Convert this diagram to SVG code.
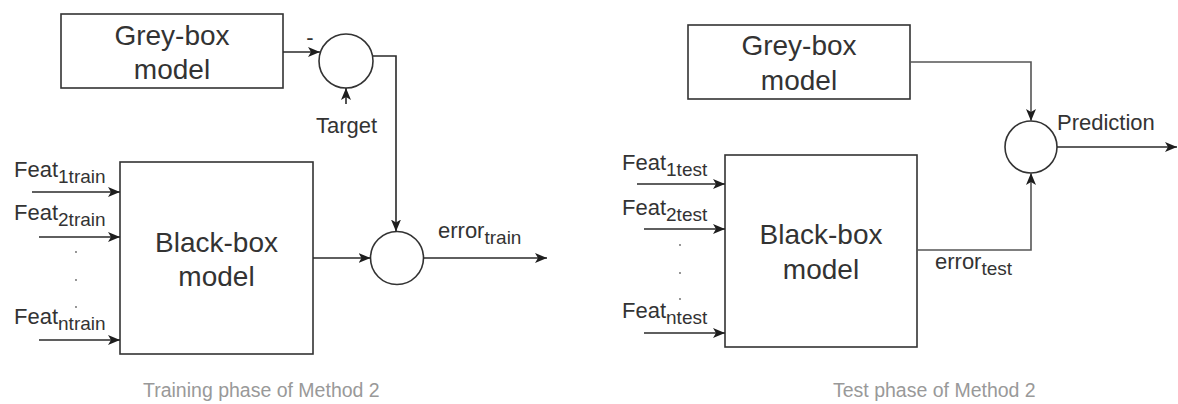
<svg xmlns="http://www.w3.org/2000/svg" width="1178" height="404" viewBox="0 0 1178 404">
  <style>
    .box { fill: #ffffff; stroke: #333333; stroke-width: 1.6; }
    .sum { fill: #ffffff; stroke: #333333; stroke-width: 1.6; }
    .wire { fill: none; stroke: #2a2a2a; stroke-width: 1.6; }
    .wire.soft { stroke: #555555; }
    .big { font-family: "Liberation Sans", Arial, sans-serif; font-size: 28px; fill: #333333; text-anchor: middle; }
    .lbl { font-family: "Liberation Sans", Arial, sans-serif; font-size: 22px; fill: #333333; }
    .sub { font-size: 19px; }
    .cap { font-family: "Liberation Sans", Arial, sans-serif; font-size: 19.5px; fill: #999999; }
    .dot { fill: #666666; }
  </style>
  <defs>
    <marker id="arrow" markerUnits="userSpaceOnUse" markerWidth="14" markerHeight="12" refX="12" refY="5" orient="auto">
      <path d="M0,0 L12,5 L0,10 L3,5 Z" fill="#1e1e1e"/>
    </marker>
  </defs>

  <rect width="1178" height="404" fill="#ffffff"/>

  <!-- ===== Training phase ===== -->
  <g id="train-greybox">
    <rect class="box" x="61" y="14" width="222" height="74"/>
    <text class="big" x="172" y="45">Grey-box</text>
    <text class="big" x="172" y="79">model</text>
  </g>

  <g id="train-sum-target">
    <circle class="sum" cx="346" cy="61" r="27"/>
    <text class="lbl" x="310" y="45" text-anchor="middle" font-size="18">-</text>
    <text class="lbl" x="346.5" y="133" text-anchor="middle">Target</text>
  </g>

  <g id="train-blackbox">
    <rect class="box" x="120" y="162" width="193" height="192"/>
    <text class="big" x="216.5" y="252">Black-box</text>
    <text class="big" x="216.5" y="286">model</text>
  </g>

  <g id="train-sum-error">
    <circle class="sum" cx="397" cy="258" r="26.5"/>
    <text class="lbl" x="438" y="238">error<tspan class="sub" dy="6">train</tspan></text>
  </g>

  <g id="train-inputs">
    <text class="lbl" x="14" y="177">Feat<tspan class="sub" dy="6">1train</tspan></text>
    <text class="lbl" x="14" y="220">Feat<tspan class="sub" dy="6">2train</tspan></text>
    <text class="lbl" x="14" y="324">Feat<tspan class="sub" dy="6">ntrain</tspan></text>
    <circle class="dot" cx="76" cy="252" r="0.9"/>
    <circle class="dot" cx="76" cy="280" r="0.9"/>
    <circle class="dot" cx="76" cy="307" r="0.9"/>
  </g>

  <g id="train-connectors">
    <path class="wire" d="M32,192 L120,192" marker-end="url(#arrow)"/>
    <path class="wire" d="M39,237 L120,237" marker-end="url(#arrow)"/>
    <path class="wire" d="M39,340 L120,340" marker-end="url(#arrow)"/>
    <path class="wire" d="M283,52 L320,52" marker-end="url(#arrow)"/>
    <path class="wire" d="M346,104 L346,88" marker-end="url(#arrow)"/>
    <path class="wire" d="M373,56 L396,56 L396,231.5" marker-end="url(#arrow)"/>
    <path class="wire" d="M313,258 L370.5,258" marker-end="url(#arrow)"/>
    <path class="wire" d="M423.5,258 L547,258" marker-end="url(#arrow)"/>
  </g>

  <text class="cap" x="143" y="397">Training phase of Method 2</text>

  <!-- ===== Test phase ===== -->
  <g id="test-greybox">
    <rect class="box" x="688" y="25" width="222" height="74"/>
    <text class="big" x="799" y="55">Grey-box</text>
    <text class="big" x="799" y="90">model</text>
  </g>

  <g id="test-blackbox">
    <rect class="box" x="725" y="155" width="192" height="192"/>
    <text class="big" x="821" y="244">Black-box</text>
    <text class="big" x="821" y="279">model</text>
  </g>

  <g id="test-sum-prediction">
    <circle class="sum" cx="1031" cy="147" r="26"/>
    <text class="lbl" x="1057" y="130">Prediction</text>
  </g>

  <g id="test-inputs">
    <text class="lbl" x="622" y="170">Feat<tspan class="sub" dy="6">1test</tspan></text>
    <text class="lbl" x="622" y="215">Feat<tspan class="sub" dy="6">2test</tspan></text>
    <text class="lbl" x="622" y="318">Feat<tspan class="sub" dy="6">ntest</tspan></text>
    <circle class="dot" cx="680" cy="245" r="0.9"/>
    <circle class="dot" cx="680" cy="273" r="0.9"/>
    <circle class="dot" cx="680" cy="299" r="0.9"/>
    <text class="lbl" x="935" y="269">error<tspan class="sub" dy="6">test</tspan></text>
  </g>

  <g id="test-connectors">
    <path class="wire" d="M637,184 L725,184" marker-end="url(#arrow)"/>
    <path class="wire" d="M644,229 L725,229" marker-end="url(#arrow)"/>
    <path class="wire" d="M644,333 L725,333" marker-end="url(#arrow)"/>
    <path class="wire soft" d="M910,62 L1031,62 L1031,121" marker-end="url(#arrow)"/>
    <path class="wire soft" d="M917,250 L1031,250 L1031,173" marker-end="url(#arrow)"/>
    <path class="wire" d="M1057,147 L1177,147" marker-end="url(#arrow)"/>
  </g>

  <text class="cap" x="833" y="397">Test phase of Method 2</text>
</svg>
